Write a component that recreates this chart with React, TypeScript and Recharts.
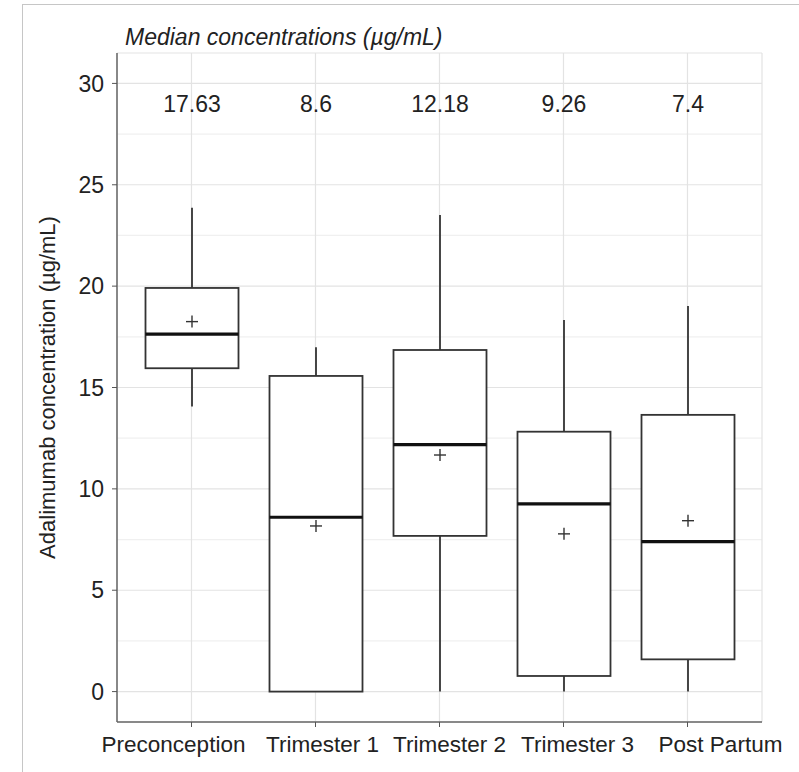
import React from 'react';
import { ComposedChart, Bar, XAxis, YAxis, CartesianGrid } from 'recharts';

const categories = ['Preconception', 'Trimester 1', 'Trimester 2', 'Trimester 3', 'Post Partum'];
const whiskerLow = [14.06, 0, 0, 0, 0];
const q1 = [15.95, 0, 7.68, 0.77, 1.59];
const medians = [17.63, 8.6, 12.18, 9.26, 7.4];
const q3 = [19.91, 15.57, 16.85, 12.82, 13.65];
const whiskerHigh = [23.87, 16.99, 23.51, 18.33, 19.02];
const means = [18.25, 8.17, 11.67, 7.78, 8.43];
const medianLabels = ['17.63', '8.6', '12.18', '9.26', '7.4'];
const yTicks = [0, 5, 10, 15, 20, 25, 30];
const minorTicks = [2.5, 7.5, 12.5, 17.5, 22.5, 27.5];
const yDomain = [-1.5, 31.5];
const LABEL_LEVEL = 29.0;

// horizontal nudges of the category labels, as in the reference figure
const TICK_NUDGE = [-18, 7, 10, 14, 33];

const data = categories.map((name, i) => ({
  name,
  range: [whiskerLow[i], whiskerHigh[i]],
  q1: q1[i],
  median: medians[i],
  q3: q3[i],
  mean: means[i],
  label: medianLabels[i],
}));

const FONT = '"Liberation Sans", Arial, Helvetica, sans-serif';
const INK = '#333333';

const BoxShape = (props: any) => {
  const { x, y, width, height, payload } = props;
  if (!payload) return null;
  const [lo, hi] = payload.range;
  const top = Math.min(y, y + height);
  const bottom = Math.max(y, y + height);
  const toY = (v: number) => top + ((hi - v) / (hi - lo)) * (bottom - top);
  const cx = x + width / 2;
  const yq1 = toY(payload.q1);
  const yq3 = toY(payload.q3);
  const ymed = toY(payload.median);
  const ymean = toY(payload.mean);
  const ylab = toY(LABEL_LEVEL);
  return (
    <g>
      <line x1={cx} x2={cx} y1={toY(hi)} y2={yq3} stroke={INK} strokeWidth={1.8} />
      <line x1={cx} x2={cx} y1={yq1} y2={toY(lo)} stroke={INK} strokeWidth={1.8} />
      <rect x={x} y={yq3} width={width} height={Math.max(yq1 - yq3, 0)} fill="#ffffff" stroke={INK} strokeWidth={1.8} />
      <line x1={x} x2={x + width} y1={ymed} y2={ymed} stroke="#111111" strokeWidth={3.2} />
      <line x1={cx - 6} x2={cx + 6} y1={ymean} y2={ymean} stroke={INK} strokeWidth={1.4} />
      <line x1={cx} x2={cx} y1={ymean - 6} y2={ymean + 6} stroke={INK} strokeWidth={1.4} />
      <text x={cx} y={ylab} textAnchor="middle" dominantBaseline="central" fontSize={23} fill="#222" fontFamily={FONT}>
        {payload.label}
      </text>
    </g>
  );
};

const CategoryTick = (props: any) => {
  const { x, y, payload, index } = props;
  const nudge = TICK_NUDGE[index] ?? 0;
  return (
    <text x={x + nudge} y={y} dy="0.71em" textAnchor="middle" fontSize={22.5} fill="#222" fontFamily={FONT}>
      {payload.value}
    </text>
  );
};

const YLabel = (props: any) => {
  const vb = props.viewBox || {};
  const cx = (vb.x || 0) + 47;
  const cy = (vb.y || 0) + (vb.height || 0) / 2;
  return (
    <text
      x={cx}
      y={cy}
      transform={`rotate(-90, ${cx}, ${cy})`}
      textAnchor="middle"
      dominantBaseline="central"
      fontSize={22}
      fill="#222"
      fontFamily={FONT}
    >
      Adalimumab concentration (µg/mL)
    </text>
  );
};

export default function App() {
  return (
    <div style={{ position: 'absolute', left: 0, top: 0, width: 799, height: 772, background: '#fff', fontFamily: FONT }}>
      <div
        style={{
          position: 'absolute',
          left: 22,
          top: 4,
          right: 0,
          bottom: 0,
          borderLeft: '1px solid #c6c6c6',
          borderTop: '1px solid #c6c6c6',
        }}
      />
      <div
        style={{
          position: 'absolute',
          left: 125,
          top: 25,
          fontSize: 23,
          lineHeight: '24px',
          fontStyle: 'italic',
          color: '#222',
          whiteSpace: 'nowrap',
        }}
      >
        Median concentrations (µg/mL)
      </div>
      <ComposedChart
        width={799}
        height={772}
        data={data}
        margin={{ top: 53, right: 37, bottom: 0, left: 0 }}
        style={{ position: 'absolute', left: 0, top: 0 }}
      >
        <CartesianGrid horizontalValues={minorTicks} vertical={false} stroke="#f0f0f0" strokeWidth={1.2} />
        <CartesianGrid stroke="#e3e3e3" strokeWidth={1.2} />
        <XAxis
          dataKey="name"
          type="category"
          padding={{ left: 12.5, right: 12.5 }}
          tick={<CategoryTick />}
          tickSize={5}
          tickMargin={9}
          tickLine={{ stroke: '#555' }}
          axisLine={{ stroke: '#666', strokeWidth: 1.5 }}
          height={50}
          interval={0}
        />
        <XAxis
          xAxisId="top"
          orientation="top"
          dataKey="name"
          type="category"
          padding={{ left: 12.5, right: 12.5 }}
          height={0}
          tick={false}
          tickLine={false}
          axisLine={{ stroke: '#888', strokeWidth: 1.5 }}
        />
        <YAxis
          type="number"
          domain={yDomain}
          ticks={yTicks}
          allowDataOverflow
          width={117}
          tick={{ fontSize: 23, fill: '#222', fontFamily: FONT }}
          tickSize={5}
          tickMargin={8}
          tickLine={{ stroke: '#555' }}
          axisLine={{ stroke: '#666', strokeWidth: 1.5 }}
          label={<YLabel />}
        />
        <YAxis
          yAxisId="right"
          orientation="right"
          type="number"
          domain={yDomain}
          ticks={yTicks}
          allowDataOverflow
          width={0}
          tick={false}
          tickLine={false}
          axisLine={{ stroke: '#888', strokeWidth: 1.5 }}
        />
        <Bar dataKey="range" barSize={93} isAnimationActive={false} shape={(p: any) => <BoxShape {...p} />} />
      </ComposedChart>
    </div>
  );
}
